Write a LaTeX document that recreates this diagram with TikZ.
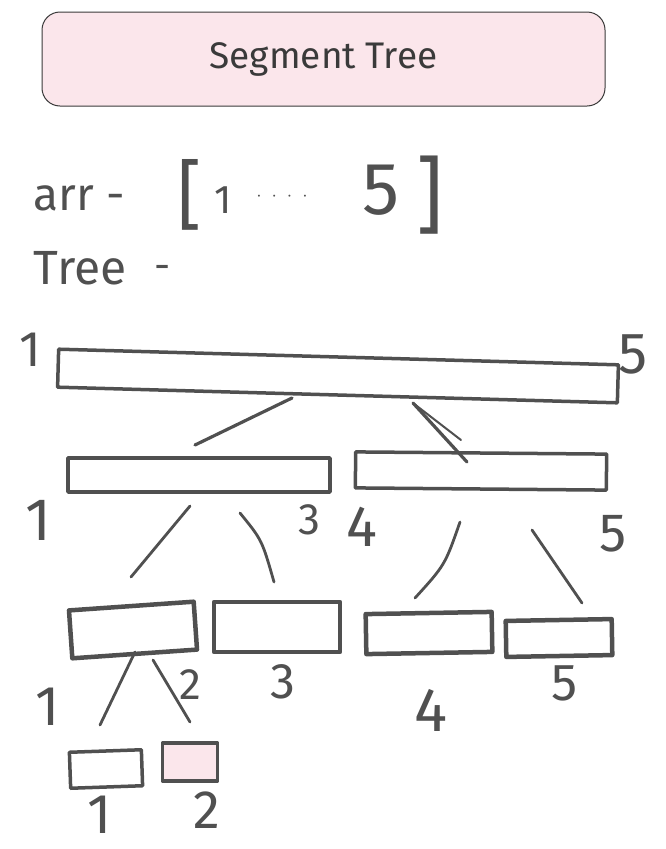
\documentclass[tikz,border=0pt]{standalone}
\usepackage{fontspec}
\setmainfont{Fira Sans}
\definecolor{ink}{HTML}{505050}
\definecolor{titleink}{HTML}{3A3A3A}
\definecolor{pinkfill}{HTML}{FBE6EB}
\newcommand{\fs}[1]{\fontsize{#1}{#1}\selectfont}
\begin{document}
\begin{tikzpicture}[x=1pt,y=-1pt,
  cell/.style={draw=ink,line width=4.5pt,inner sep=0pt,line join=round},
  lbl/.style={text=ink,inner sep=0pt,anchor=center},
  link/.style={draw=ink,line width=2.8pt,line cap=round}]
\useasboundingbox (0,0) rectangle (665,849);
\fill[white] (0,0) rectangle (665,849);

% title
\node[draw=titleink,line width=1pt,rounded corners=18pt,fill=pinkfill,
      minimum width=563pt,minimum height=94pt,text=titleink] (title) at (323.5,59)
      {\fs{37}Segment Tree};

% header text
\node[lbl] (arr) at (79,198) {\fs{46}arr -};
\node[lbl] (lb) at (190,195) {\fs{76}[};
\node[lbl] (one) at (223,200) {\fs{40}1};
\node[lbl] (dots) at (282,198) {\fs{14}·\hspace{12pt}·\hspace{12pt}·\hspace{12pt}·};
\node[lbl] (five) at (381,190) {\fs{74}5};
\node[lbl] (rb) at (430,195) {\fs{84}]};
\node[lbl] (tree) at (80,268) {\fs{48}Tree};
\node[lbl] (dash) at (163,272) {\fs{40}-};

% root
\node[cell,line width=3.5pt,minimum width=560pt,minimum height=38pt,rotate=-1.6] (root) at (338,376) {};
\node[lbl] (r1) at (30,350) {\fs{50}1};
\node[lbl] (r5) at (633,354) {\fs{58}5};

% level 1
\node[cell,line width=3.5pt,minimum width=262pt,minimum height=34pt] (L) at (199,475) {};
\node[cell,line width=3.5pt,minimum width=251pt,minimum height=36pt,rotate=-0.5] (R) at (481,471) {};
\node[lbl] (L1) at (38,520) {\fs{60}1};
\node[lbl] (L3) at (309,520) {\fs{44}3};
\node[lbl] (R4) at (362,527) {\fs{58}4};
\node[lbl] (R5) at (613,534) {\fs{54}5};

% level 2
\node[cell,minimum width=125pt,minimum height=48pt,rotate=4] (A) at (133,630) {};
\node[cell,minimum width=126pt,minimum height=50pt] (B) at (277,627) {};
\node[cell,minimum width=126pt,minimum height=40pt,rotate=1] (C) at (429,633) {};
\node[cell,minimum width=106pt,minimum height=36pt,rotate=1] (D) at (559,638) {};
\node[lbl] (A1) at (48,707) {\fs{56}1};
\node[lbl] (A2) at (190,685) {\fs{44}2};
\node[lbl] (B3) at (283,682) {\fs{50}3};
\node[lbl] (C4) at (431,710) {\fs{62}4};
\node[lbl] (D5) at (565,683) {\fs{52}5};

% level 3
\node[cell,line width=3.5pt,minimum width=72pt,minimum height=36pt,rotate=2] (E) at (106,769) {};
\node[cell,line width=3.5pt,minimum width=55pt,minimum height=38pt,fill=pinkfill] (F) at (190,762) {};
\node[lbl] (E1) at (100,815) {\fs{56}1};
\node[lbl] (F2) at (207,810) {\fs{54}2};

% connector end points
\coordinate (p1) at (292,398); \coordinate (q1) at (195,445);
\coordinate (p2) at (413,403); \coordinate (q2) at (467,462);
\coordinate (p3) at (190,506); \coordinate (q3) at (131,577);
\coordinate (p4) at (240,513); \coordinate (q4) at (274,582);
\coordinate (p5) at (460,522); \coordinate (q5) at (415,598);
\coordinate (p6) at (532,530); \coordinate (q6) at (582,603);
\coordinate (p7) at (135,652); \coordinate (q7) at (100,725);
\coordinate (p8) at (153,660); \coordinate (q8) at (190,722);
\coordinate (s2) at (461,440);

\draw[link,line width=3.2pt] (p1) -- (q1);
\draw[link,line width=3.2pt] (p2) -- (q2);
\draw[link,line width=2pt] (p2) -- (s2);
\draw[link] (p3) -- (q3);
\draw[link] (p4) .. controls (262,540) .. (q4);
\draw[link] (p5) .. controls (445,565) .. (q5);
\draw[link] (p6) -- (q6);
\draw[link] (p7) -- (q7);
\draw[link] (p8) -- (q8);
\end{tikzpicture}
\end{document}
